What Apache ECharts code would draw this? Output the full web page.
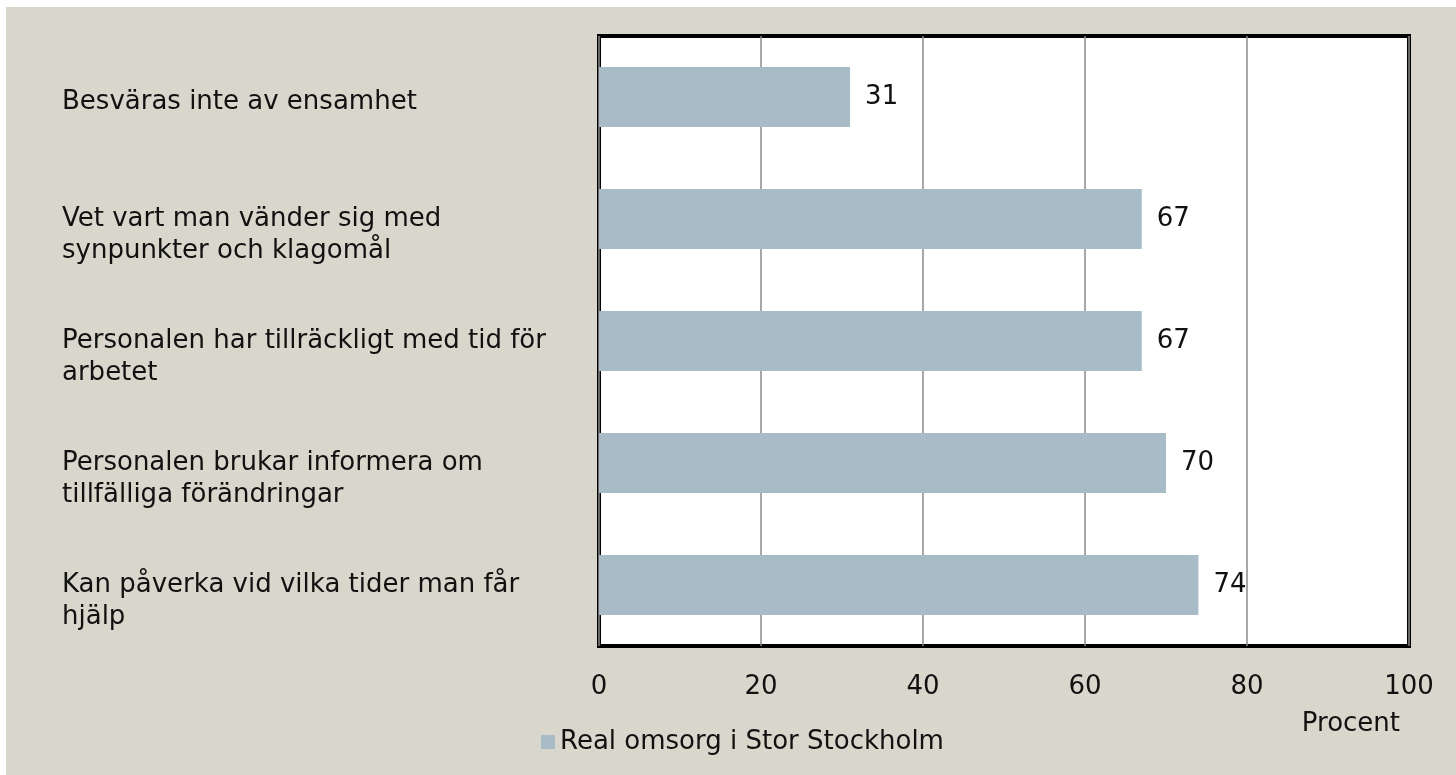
<!DOCTYPE html>
<html>
<head>
<meta charset="utf-8">
<script src="https://cdn.jsdelivr.net/npm/echarts@6/dist/echarts.min.js"></script>
<style>
  html, body { margin: 0; padding: 0; background: #ffffff; }
  #chart { position: absolute; left: 6px; top: 7px; width: 1450px; height: 768px; }
</style>
</head>
<body>
<div id="chart"></div>
<script>
// =====================
// data
// =====================

const categories = [
  "Besväras inte av ensamhet",
  "Vet vart man vänder sig med\nsynpunkter och klagomål",
  "Personalen har tillräckligt med tid för\narbetet",
  "Personalen brukar informera om\ntillfälliga förändringar",
  "Kan påverka vid vilka tider man får\nhjälp",
];

const values = [31, 67, 67, 70, 74];

const seriesName = "Real omsorg i Stor Stockholm";

const axisTitle = "Procent";

// =====================
// chart
// =====================

const FONT = "DejaVu Sans";
const SIZE = 26;
const chart = echarts.init(document.getElementById("chart"));

// an empty spacer line on top pushes the label a little below the bar centre
function categoryLabel(value) {
  const lines = value.split("\n");
  const spacer = lines.length > 1 ? "{e2| }" : "{e1| }";
  return [spacer].concat(lines.map((line) => "{b|" + line + "}")).join("\n");
}

chart.setOption({
  animation: false,
  backgroundColor: "#d9d7cb",
  textStyle: { fontFamily: FONT, color: "#111" },

  grid: {
    left: 593,
    right: 47,
    top: 29,
    bottom: 129,
    show: true,
    backgroundColor: "#ffffff",
    borderColor: "#000000",
    borderWidth: 4,
  },

  legend: {
    left: 530,
    top: 717,
    itemWidth: 14,
    itemHeight: 14,
    icon: "rect",
    textStyle: { fontFamily: FONT, fontSize: SIZE, color: "#111" },
    data: [seriesName],
  },

  xAxis: {
    type: "value",
    min: 0,
    max: 100,
    interval: 20,
    name: axisTitle,
    nameLocation: "end",
    nameGap: -9,
    nameTextStyle: {
      fontFamily: FONT,
      fontSize: SIZE,
      color: "#111",
      align: "right",
      verticalAlign: "top",
      padding: [65, 0, 0, 0],
    },
    axisLine: { show: false },
    axisTick: { show: false },
    axisLabel: { fontSize: SIZE, color: "#111", margin: 28 },
    splitLine: { lineStyle: { color: "#8a8a8a", width: 1.5 } },
  },

  yAxis: {
    type: "category",
    inverse: true,
    data: categories,
    axisLine: { show: false },
    axisTick: { show: false },
    axisLabel: {
      align: "left",
      margin: 537,
      formatter: categoryLabel,
      rich: {
        e1: { fontSize: 4, lineHeight: 10 },
        e2: { fontSize: 4, lineHeight: 32 },
        b: { fontFamily: FONT, fontSize: SIZE, color: "#111", lineHeight: 32 },
      },
    },
  },

  series: [
    {
      name: seriesName,
      type: "bar",
      data: values,
      barWidth: "49%",
      itemStyle: { color: "#a7bcc7" },
      label: {
        show: true,
        position: "right",
        distance: 15,
        fontSize: SIZE,
        color: "#111",
      },
    },
  ],
});
</script>
</body>
</html>
